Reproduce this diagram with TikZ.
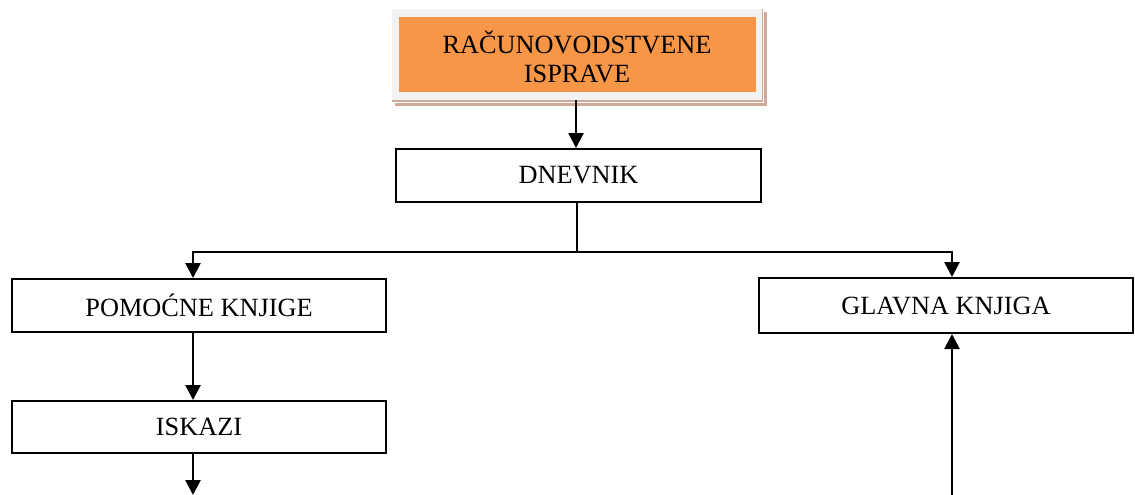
\documentclass[tikz,border=0pt]{standalone}
\usepackage{fontspec}
\setmainfont{Liberation Serif}
\usetikzlibrary{arrows.meta}
\definecolor{acorange}{HTML}{F79646}
\definecolor{acframe}{HTML}{F2F2F2}
\definecolor{acshadow}{HTML}{D0A898}
\tikzset{
  stepbox/.style={draw=black, line width=2pt, rectangle, inner sep=0pt,
    font=\fontsize{26.3}{29}\selectfont, align=center},
  conn/.style={draw=black, line width=2.7pt},
  arr/.style={conn, -{Triangle[width=15pt,length=15pt]}}
}
\begin{document}
\begin{tikzpicture}[x=1pt,y=-1pt]
\useasboundingbox (0,0) rectangle (1135,495);
% top orange box with frame and shadow
\fill[acshadow] (395,12) rectangle (767,106);
\fill[white] (392,9) rectangle (764,103);
\fill[acshadow] (392,9) rectangle (763,102);
\fill[acframe] (392,9) rectangle (762,100);
\fill[acorange] (399,17) rectangle (756,92);
\node[inner sep=0pt, align=center, font=\fontsize{26.3}{29}\selectfont] (rac) at (577,57) {RAČUNOVODSTVENE\\ISPRAVE};
\coordinate (racb) at (576,100);
% boxes
\node[stepbox, minimum width=365pt, minimum height=53pt] (dn) at (578.5,175.5) {DNEVNIK};
\node[stepbox, minimum width=374pt, minimum height=53pt] (pk) at (199,305.5) {POMOĆNE KNJIGE};
\node[stepbox, minimum width=374pt, minimum height=52pt] (is) at (199,427) {ISKAZI};
\node[stepbox, minimum width=374pt, minimum height=55pt] (gk) at (946,305.5) {GLAVNA KNJIGA};
% connectors
\draw[arr] (racb) -- (racb |- dn.north);
\coordinate (split) at (577,252);
\draw[conn] (577,0 |- dn.south) -- (split);
\draw[arr] (split) -| (193,0 |- pk.north);
\draw[arr] (split) -| (952,0 |- gk.north);
\draw[arr] (193,0 |- pk.south) -- (193,0 |- is.north);
\coordinate (isend) at (193,495);
\draw[arr] (193,0 |- is.south) -- (isend);
\coordinate (gkstart) at (952,495);
\draw[arr] (gkstart) -- (952,0 |- gk.south);
\end{tikzpicture}
\end{document}
